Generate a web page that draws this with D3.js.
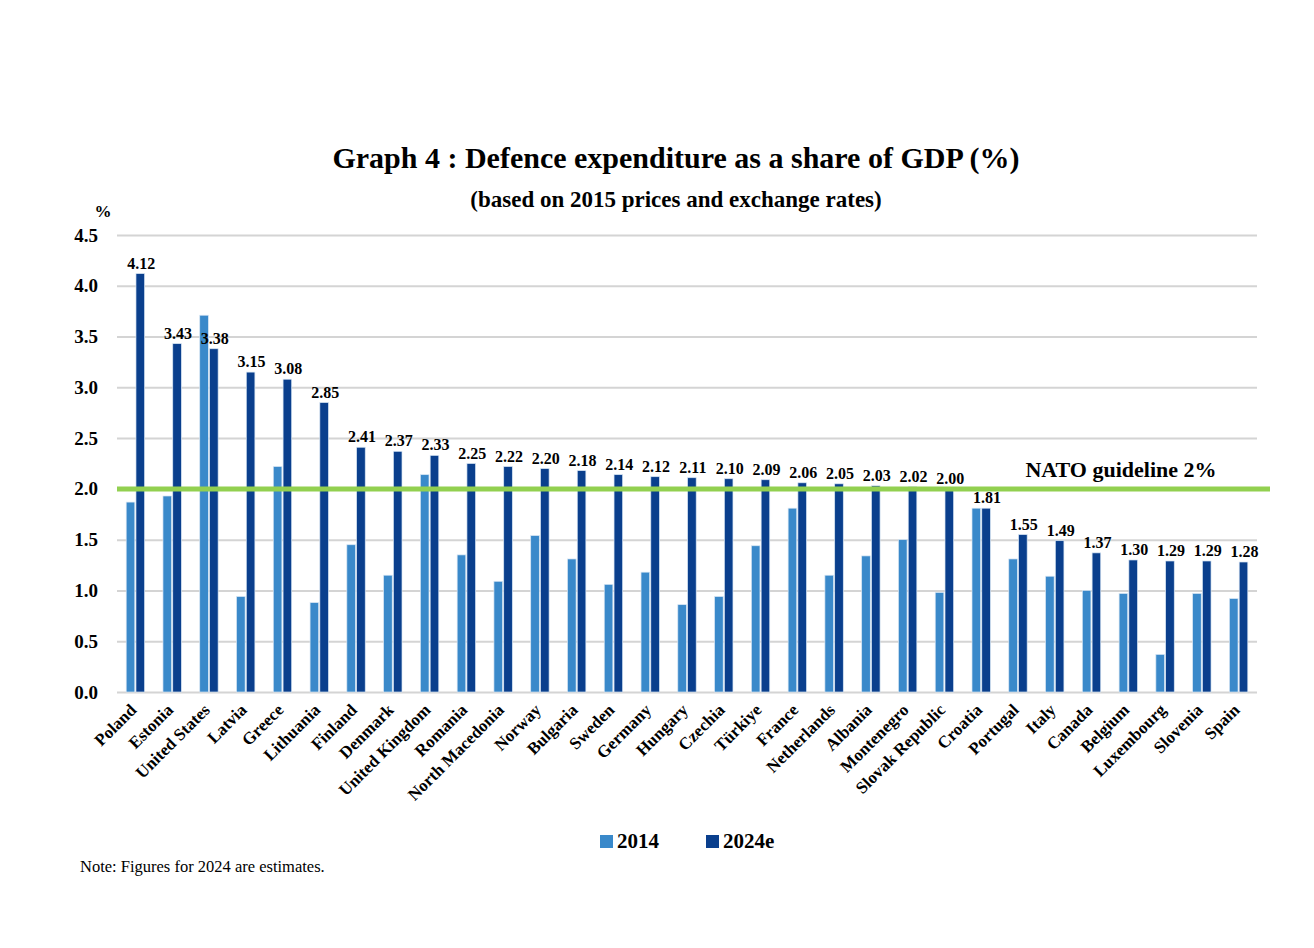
<!DOCTYPE html>
<html>
<head>
<meta charset="utf-8">
<script src="https://cdn.jsdelivr.net/npm/d3@7"></script>
<style>
  body { margin: 0; background: #fff; }
  svg text { font-family: "Liberation Serif", "DejaVu Serif", serif; fill: #000; }
</style>
</head>
<body>
<svg id="chart" width="1314" height="948"></svg>
<script>
// countries, sorted by 2024 share
const countries = [
  "Poland", "Estonia", "United States", "Latvia", "Greece", "Lithuania",
  "Finland", "Denmark", "United Kingdom", "Romania", "North Macedonia",
  "Norway", "Bulgaria", "Sweden", "Germany", "Hungary", "Czechia",
  "Türkiye", "France", "Netherlands", "Albania", "Montenegro",
  "Slovak Republic", "Croatia", "Portugal", "Italy", "Canada", "Belgium",
  "Luxembourg", "Slovenia", "Spain"
];
const values2014 = [
  1.87, 1.93, 3.71, 0.94, 2.22, 0.88, 1.45, 1.15, 2.14, 1.35, 1.09,
  1.54, 1.31, 1.06, 1.18, 0.86, 0.94, 1.44, 1.81, 1.15, 1.34, 1.50,
  0.98, 1.81, 1.31, 1.14, 1.00, 0.97, 0.37, 0.97, 0.92
];
const values2024 = [
  4.12, 3.43, 3.38, 3.15, 3.08, 2.85, 2.41, 2.37, 2.33, 2.25, 2.22,
  2.20, 2.18, 2.14, 2.12, 2.11, 2.10, 2.09, 2.06, 2.05, 2.03, 2.02,
  2.00, 1.81, 1.55, 1.49, 1.37, 1.30, 1.29, 1.29, 1.28
];
const seriesNames = ["2014", "2024e"];
const seriesColors = ["#3a89ca", "#0a3f8d"];
const yTicks = [0, 0.5, 1, 1.5, 2, 2.5, 3, 3.5, 4, 4.5];
const guideline = 2;

const svg = d3.select("#chart");

// plot area
const plotLeft = 117, plotRight = 1257, plotTop = 235, plotBottom = 692;

const x0 = d3.scaleBand()
  .domain(countries)
  .range([plotLeft, plotRight])
  .paddingInner(0.5)
  .paddingOuter(0.25);

const x1 = d3.scaleBand()
  .domain(seriesNames)
  .range([0, x0.bandwidth()])
  .paddingInner(0.12);

const y = d3.scaleLinear().domain([0, 4.5]).range([plotBottom, plotTop]);

// titles
svg.append("text")
  .attr("x", 676).attr("y", 168)
  .attr("text-anchor", "middle")
  .style("font-size", "30px").style("font-weight", "bold")
  .text("Graph 4 : Defence expenditure as a share of GDP (%)");

svg.append("text")
  .attr("x", 676).attr("y", 207)
  .attr("text-anchor", "middle")
  .style("font-size", "23px").style("font-weight", "bold")
  .text("(based on 2015 prices and exchange rates)");

svg.append("text")
  .attr("x", 103).attr("y", 217)
  .attr("text-anchor", "middle")
  .style("font-size", "17px").style("font-weight", "bold")
  .text("%");

// gridlines + y labels
const yAxis = d3.axisLeft(y)
  .tickValues(yTicks)
  .tickFormat(d3.format(".1f"))
  .tickSize(-(plotRight - plotLeft))
  .tickPadding(19);

const gy = svg.append("g")
  .attr("transform", "translate(" + plotLeft + ",0)")
  .call(yAxis);
gy.select(".domain").remove();
gy.selectAll(".tick line").attr("stroke", "#d4d4d4").attr("stroke-width", 2);
gy.selectAll(".tick text")
  .style("font-family", "'Liberation Serif', serif")
  .style("font-size", "19px").style("font-weight", "bold")
  .attr("fill", "#000");

// bars
const rows = countries.map((c, i) => ({
  country: c,
  vals: [
    { key: "2014", value: values2014[i] },
    { key: "2024e", value: values2024[i] }
  ]
}));

const groups = svg.append("g")
  .selectAll("g")
  .data(rows)
  .enter()
  .append("g")
  .attr("transform", (d) => "translate(" + x0(d.country) + ",0)");

groups.selectAll("rect")
  .data((d) => d.vals)
  .enter()
  .append("rect")
  .attr("x", (d) => x1(d.key))
  .attr("y", (d) => y(d.value))
  .attr("width", x1.bandwidth())
  .attr("height", (d) => y(0) - y(d.value))
  .attr("fill", (d, i) => seriesColors[i])
  .attr("stroke", "#d8e6f4")
  .attr("stroke-width", 0.7);

// value labels for 2024e
groups.append("text")
  .attr("x", x1("2024e") + x1.bandwidth() / 2 + 1)
  .attr("y", (d) => y(d.vals[1].value) - 5)
  .attr("text-anchor", "middle")
  .style("font-size", "16px").style("font-weight", "bold")
  .text((d) => d.vals[1].value.toFixed(2));

// x labels
const xAxis = d3.axisBottom(x0).tickSize(0).tickPadding(0);
const gx = svg.append("g")
  .attr("transform", "translate(0," + plotBottom + ")")
  .call(xAxis);
gx.select(".domain").remove();
gx.selectAll(".tick text")
  .style("font-family", "'Liberation Serif', serif")
  .style("font-size", "17px").style("font-weight", "bold")
  .attr("fill", "#000")
  .attr("text-anchor", "end")
  .attr("dy", null)
  .attr("y", 0)
  .attr("transform", "translate(2,19) rotate(-45)");

// NATO guideline
svg.append("line")
  .attr("x1", plotLeft).attr("x2", 1270)
  .attr("y1", y(guideline)).attr("y2", y(guideline))
  .attr("stroke", "#92d050")
  .attr("stroke-width", 5);

svg.append("text")
  .attr("x", 1121).attr("y", y(guideline) - 12)
  .attr("text-anchor", "middle")
  .style("font-size", "22px").style("font-weight", "bold")
  .text("NATO guideline 2%");

// legend
const legend = svg.append("g")
  .selectAll("g")
  .data(seriesNames)
  .enter()
  .append("g")
  .attr("transform", (d, i) => "translate(" + (600 + i * 106) + ",835)");
legend.append("rect")
  .attr("width", 13).attr("height", 13)
  .attr("fill", (d, i) => seriesColors[i]);
legend.append("text")
  .attr("x", 17).attr("y", 13)
  .style("font-size", "21px").style("font-weight", "bold")
  .text((d) => d);

// note
svg.append("text")
  .attr("x", 80).attr("y", 872)
  .style("font-size", "16.5px")
  .text("Note: Figures for 2024 are estimates.");
</script>
</body>
</html>
